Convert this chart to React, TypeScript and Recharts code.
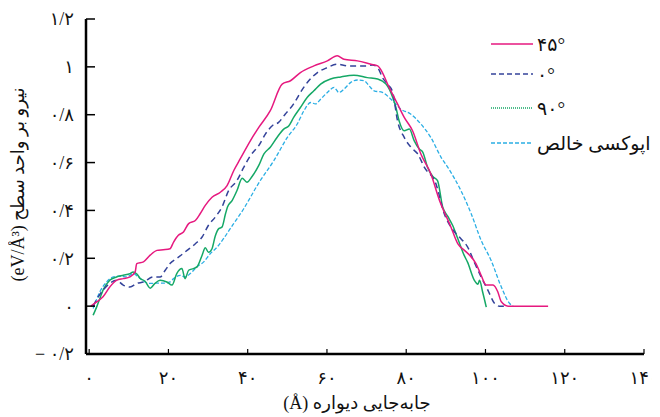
import React from 'react';
import { LineChart, Line, XAxis, YAxis, Legend } from 'recharts';

// displacement (Å) / force per area (eV/Å³)
const x45 = [0.4, 1.9, 3.5, 5.2, 6.9, 8.6, 10.3, 11.6, 12.0, 13.7, 15.4, 17.1, 18.7, 20.4, 21.3, 22.5, 23.8, 25.1, 26.8, 28.0, 29.3, 31.0, 33.1, 34.8, 36.5, 38.1, 40.7, 42.8, 45.7, 48.7, 50.8, 53.3, 56.7, 60.1, 62.6, 64.3, 67.7, 71.1, 72.8, 74.0, 75.3, 77.8, 79.5, 81.6, 83.7, 86.2, 88.4, 91.3, 93.0, 94.7, 96.0, 97.6, 98.9, 100.2, 101.9, 103.1, 104.0, 105.7, 115.8];
const y45 = [0, 0.018, 0.039, 0.08, 0.108, 0.115, 0.122, 0.143, 0.178, 0.185, 0.213, 0.233, 0.236, 0.24, 0.268, 0.296, 0.31, 0.345, 0.358, 0.386, 0.421, 0.455, 0.476, 0.504, 0.567, 0.615, 0.692, 0.747, 0.817, 0.928, 0.942, 0.976, 1.004, 1.025, 1.046, 1.032, 1.025, 1.011, 1.004, 0.976, 0.928, 0.845, 0.789, 0.733, 0.636, 0.553, 0.442, 0.33, 0.261, 0.233, 0.213, 0.178, 0.129, 0.088, 0.088, 0.06, 0.018, 0, 0];

const x0 = [1.0, 2.3, 3.5, 5.2, 6.9, 8.6, 10.3, 12.0, 13.7, 16.2, 17.9, 19.2, 20.4, 22.1, 24.7, 26.8, 28.5, 30.1, 31.8, 33.5, 35.2, 37.3, 39.0, 40.7, 42.8, 44.5, 46.2, 47.8, 49.5, 51.6, 53.3, 55.4, 57.6, 60.1, 62.6, 65.2, 67.7, 70.2, 71.5, 72.8, 74.0, 75.3, 76.6, 77.8, 79.5, 81.2, 82.9, 84.6, 87.5, 89.6, 91.3, 93.8, 95.4, 97.2, 98.9, 100.6, 102.3, 103.5, 105.2];
const y0 = [0, 0.039, 0.067, 0.095, 0.108, 0.088, 0.08, 0.095, 0.101, 0.122, 0.122, 0.15, 0.178, 0.199, 0.233, 0.261, 0.289, 0.338, 0.372, 0.414, 0.483, 0.525, 0.58, 0.629, 0.671, 0.72, 0.754, 0.768, 0.803, 0.845, 0.893, 0.942, 0.976, 0.997, 1.011, 1.004, 1.004, 1.004, 1.008, 0.997, 0.955, 0.928, 0.893, 0.775, 0.705, 0.664, 0.636, 0.58, 0.511, 0.386, 0.33, 0.282, 0.25, 0.183, 0.122, 0.067, 0.011, 0, 0];

const x90 = [1.0, 1.9, 2.7, 3.5, 5.2, 6.9, 8.6, 10.3, 11.1, 12.1, 12.8, 14.1, 15.4, 16.6, 17.9, 19.6, 20.9, 22.1, 23.4, 24.2, 25.1, 26.3, 27.2, 28.5, 29.3, 30.1, 31.0, 31.8, 32.7, 33.5, 34.4, 34.9, 36.1, 37.3, 38.6, 39.8, 41.1, 42.8, 44.1, 45.7, 47.4, 49.1, 50.4, 51.6, 53.3, 55.0, 56.7, 58.4, 60.9, 63.5, 66.8, 70.2, 72.8, 74.9, 76.6, 77.4, 78.2, 79.5, 80.8, 82.0, 83.3, 84.2, 85.4, 86.7, 87.9, 89.2, 90.5, 91.7, 93.0, 94.6, 95.5, 97.2, 98.1, 98.5, 99.3, 100.2];
const y90 = [-0.038, -0.003, 0.032, 0.067, 0.108, 0.122, 0.129, 0.136, 0.143, 0.133, 0.117, 0.104, 0.075, 0.095, 0.108, 0.101, 0.088, 0.136, 0.157, 0.115, 0.15, 0.157, 0.164, 0.213, 0.244, 0.225, 0.24, 0.292, 0.324, 0.33, 0.386, 0.414, 0.442, 0.483, 0.535, 0.518, 0.542, 0.588, 0.636, 0.664, 0.705, 0.74, 0.754, 0.789, 0.83, 0.872, 0.9, 0.928, 0.949, 0.958, 0.965, 0.955, 0.949, 0.928, 0.872, 0.83, 0.775, 0.733, 0.74, 0.692, 0.657, 0.643, 0.58, 0.542, 0.525, 0.414, 0.375, 0.338, 0.283, 0.213, 0.183, 0.108, 0.092, 0.108, 0.058, -0.004];

const xEpoxy = [1.0, 2.7, 4.4, 6.1, 7.8, 9.5, 11.1, 12.4, 14.1, 15.4, 17.1, 18.7, 20.4, 21.3, 23.0, 24.2, 25.5, 27.2, 28.9, 30.6, 32.3, 33.9, 35.6, 37.3, 39.0, 40.7, 42.4, 43.2, 46.6, 50.0, 52.5, 54.2, 55.9, 57.1, 58.4, 60.1, 61.8, 63.0, 64.3, 66.0, 67.7, 69.4, 70.6, 71.9, 74.0, 75.7, 77.0, 78.6, 81.1, 83.7, 86.2, 88.8, 90.5, 93.8, 96.4, 98.9, 101.4, 104.0, 106.1, 107.0];
const yEpoxy = [-0.01, 0.06, 0.101, 0.122, 0.125, 0.122, 0.136, 0.122, 0.101, 0.095, 0.096, 0.096, 0.101, 0.115, 0.129, 0.122, 0.136, 0.164, 0.185, 0.22, 0.247, 0.282, 0.324, 0.365, 0.407, 0.455, 0.504, 0.525, 0.608, 0.705, 0.761, 0.817, 0.851, 0.845, 0.865, 0.893, 0.914, 0.893, 0.907, 0.935, 0.945, 0.942, 0.921, 0.9, 0.893, 0.872, 0.851, 0.824, 0.803, 0.761, 0.705, 0.622, 0.58, 0.483, 0.386, 0.275, 0.192, 0.08, 0.011, 0];

const xTicks = [0, 20, 40, 60, 80, 100, 120, 140];
const yTicks = [-0.2, 0, 0.2, 0.4, 0.6, 0.8, 1, 1.2];

const seriesNames = ['۴۵°', '۰°', '۹۰°', 'اپوکسی خالص'];

const zip = (xs: number[], ys: number[]) => xs.map((x, i) => ({ x, y: ys[i] }));

const toFa = (s: string) => s.replace(/[0-9]/g, d => '۰۱۲۳۴۵۶۷۸۹'[+d]);
const fmtY = (v: number) => {
  const s = toFa(String(Math.abs(Math.round(v * 10) / 10)).replace('.', '/'));
  return v < 0 ? '− ' + s : s;
};

const FONT = "'Liberation Serif', 'DejaVu Sans', serif";
const PINK = '#e6197f';
const NAVY = '#34439a';
const GREEN = '#15a866';
const SKY = '#2aaee4';

const legendItems = [
  { name: seriesNames[0], color: PINK, dash: undefined, top: 26 },
  { name: seriesNames[1], color: NAVY, dash: '5 3', top: 56 },
  { name: seriesNames[2], color: GREEN, dash: '1 1', top: 90 },
  { name: seriesNames[3], color: SKY, dash: '4 2', top: 125 },
];

const renderLegend = () => (
  <div style={{ position: 'relative', width: 175, height: 150, fontFamily: FONT }}>
    {legendItems.map(it => (
      <div key={it.name} style={{ position: 'absolute', left: 0, top: it.top - 11, height: 22, display: 'flex', alignItems: 'center', whiteSpace: 'nowrap' }}>
        <svg width={42} height={4} style={{ display: 'block' }}>
          <line x1={0} y1={2} x2={42} y2={2} stroke={it.color} strokeWidth={1.3} strokeDasharray={it.dash} />
        </svg>
        <span style={{ marginLeft: 4, fontSize: 19, color: '#111' }}>{it.name}</span>
      </div>
    ))}
  </div>
);

const YLabel = (props: any) => {
  const { viewBox } = props;
  const cx = viewBox.x - 8;
  const cy = viewBox.y + viewBox.height / 2 - 2;
  return (
    <text x={cx} y={cy} transform={`rotate(-90 ${cx} ${cy})`} textAnchor="middle" dominantBaseline="central"
      style={{ direction: 'rtl' }} fontSize={18} fontFamily={FONT} fill="#111">
      نیرو بر واحد سطح (eV/Å³)
    </text>
  );
};

const XLabel = (props: any) => {
  const { viewBox } = props;
  const cx = viewBox.x + viewBox.width / 2 - 8;
  const cy = viewBox.y + 49;
  return (
    <text x={cx} y={cy} textAnchor="middle" dominantBaseline="central" style={{ direction: 'rtl' }}
      fontSize={18} fontFamily={FONT} fill="#111">
      جابه‌جایی دیواره (Å)
    </text>
  );
};

export default function App() {
  return (
    <div style={{ width: 652, height: 409 }}>
      <LineChart width={652} height={409} margin={{ top: 11, right: 16, left: 18, bottom: 23 }}>
        <XAxis
          type="number"
          dataKey="x"
          domain={[-0.8, 140]}
          ticks={xTicks}
          allowDataOverflow
          tickFormatter={v => toFa(String(v))}
          axisLine={{ stroke: '#000', strokeWidth: 2.5 }}
          tickLine={{ stroke: '#000', strokeWidth: 1.2 }}
          tickSize={-5}
          tickMargin={22}
          height={40}
          tick={{ fill: '#111', fontSize: 18, fontFamily: FONT }}
          label={<XLabel />}
        />
        <YAxis
          type="number"
          dataKey="y"
          domain={[-0.2, 1.2]}
          ticks={yTicks}
          allowDataOverflow
          tickFormatter={fmtY}
          axisLine={{ stroke: '#000', strokeWidth: 2.5 }}
          tickLine={{ stroke: '#000', strokeWidth: 1.5 }}
          tickSize={-9}
          tickMargin={21}
          width={60}
          tick={{ fill: '#111', fontSize: 18, fontFamily: FONT }}
          label={<YLabel />}
        />
        <Legend verticalAlign="middle" align="center" layout="horizontal" content={renderLegend}
          wrapperStyle={{ left: 483, top: 10, width: 175 }} />
        <Line data={zip(xEpoxy, yEpoxy)} dataKey="y" name={seriesNames[3]} type="monotone" stroke={SKY}
          strokeWidth={1.3} strokeDasharray="4 2" dot={false} isAnimationActive={false} />
        <Line data={zip(x90, y90)} dataKey="y" name={seriesNames[2]} type="monotone" stroke={GREEN}
          strokeWidth={1.5} dot={false} isAnimationActive={false} />
        <Line data={zip(x0, y0)} dataKey="y" name={seriesNames[1]} type="monotone" stroke={NAVY}
          strokeWidth={1.5} strokeDasharray="6 4" dot={false} isAnimationActive={false} />
        <Line data={zip(x45, y45)} dataKey="y" name={seriesNames[0]} type="monotone" stroke={PINK}
          strokeWidth={1.5} dot={false} isAnimationActive={false} />
      </LineChart>
    </div>
  );
}
